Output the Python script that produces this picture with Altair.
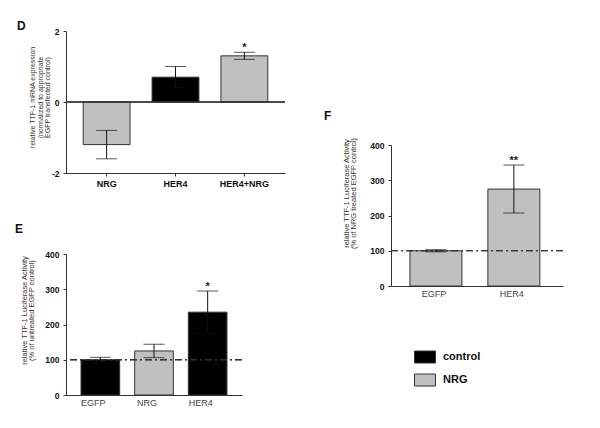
import altair as alt
import pandas as pd

FONT = "Liberation Sans"
GRAY = "#c0c0c0"

# Panel D
d_cats = ["NRG", "HER4", "HER4+NRG"]
d_vals = [-1.2, 0.7, 1.3]
d_err = [0.4, 0.3, 0.1]
d_treat = ["NRG", "control", "NRG"]
d_sig = ["", "", "*"]

# Panel E
e_cats = ["EGFP", "NRG", "HER4"]
e_vals = [100, 125, 235]
e_err = [7, 19, 60]
e_treat = ["control", "NRG", "control"]
e_sig = ["", "", "*"]

# Panel F
f_cats = ["EGFP", "HER4"]
f_vals = [100, 275]
f_err = [3, 68]
f_treat = ["NRG", "NRG"]
f_sig = ["", "**"]

legend_domain = ["control", "NRG"]
legend_range = ["#000000", GRAY]


def frame(cats, vals, errs, treat, sig):
    return pd.DataFrame({
        "cat": cats, "val": vals,
        "low": [v - e for v, e in zip(vals, errs)],
        "high": [v + e for v, e in zip(vals, errs)],
        "treat": treat, "sig": sig,
    })


def panel(df, letter, title_dx, title_offset, ytitle, ytitle_size, ytitle_pad,
          ytitle_y, ydomain, yvalues, xscale, xlabel_bold, xlabel_offset, width,
          height, ref, show_legend=False):
    base = alt.Chart(df)
    x = alt.X("cat:N", sort=list(df["cat"]), title=None, scale=xscale,
              axis=alt.Axis(labelAngle=0, labelFontSize=9,
                            labelFontWeight="bold" if xlabel_bold else "normal",
                            labelColor="#111" if xlabel_bold else "#444",
                            labelOffset=xlabel_offset, labelPadding=3,
                            ticks=xlabel_bold, tickSize=3))
    yax = alt.Axis(values=yvalues, labelExpr="'' + datum.value", labelFontSize=8.5,
                   labelFontWeight="bold", labelPadding=4, tickSize=3,
                   labelOverlap=False, labelFlush=False,
                   title=ytitle, titleFontSize=ytitle_size, titleFontWeight="normal",
                   titleLineHeight=ytitle_size + 0.3, titlePadding=ytitle_pad,
                   titleY=ytitle_y)
    ysc = alt.Scale(domain=ydomain, nice=False, zero=False)
    y = alt.Y("val:Q", scale=ysc, axis=yax)
    if show_legend:
        leg = alt.Legend(title=None, orient="none", legendX=23, legendY=201,
                         symbolType="M-1,-0.5714L1,-0.5714L1,0.5714L-1,0.5714Z",
                         symbolSize=441, symbolStrokeColor="#333", symbolStrokeWidth=1,
                         labelFont=FONT, labelFontSize=11, labelFontWeight="bold",
                         labelColor="#111", labelOffset=7, rowPadding=4, padding=0)
    else:
        leg = None
    color = alt.Color("treat:N", scale=alt.Scale(domain=legend_domain, range=legend_range),
                      legend=leg)
    bars = base.mark_bar(stroke="#333", strokeWidth=1).encode(x=x, y=y, color=color)
    ylow = alt.Y("low:Q", scale=ysc, axis=yax)
    yhigh = alt.Y("high:Q", scale=ysc, axis=yax)
    rule = base.mark_rule(color="#111", strokeWidth=1).encode(x=x, y=ylow, y2="high:Q")
    cap_hi = base.mark_tick(color="#111", thickness=1, size=21).encode(x=x, y=yhigh)
    cap_lo = base.mark_tick(color="#111", thickness=1, size=21).encode(x=x, y=ylow)
    sig = base.mark_text(font=FONT, fontSize=11, fontWeight="bold", color="#222",
                         baseline="alphabetic", dy=-1).encode(x=x, y=yhigh, text="sig:N")
    if ref == 0:
        refl = alt.Chart(df).mark_rule(color="#333", strokeWidth=1).encode(
            y=alt.Y(datum=0, scale=ysc, axis=yax))
    else:
        refl = alt.Chart(df).mark_rule(color="#333", strokeWidth=1,
                                       strokeDash=[7, 3, 2, 3]).encode(
            y=alt.Y(datum=ref, scale=ysc, axis=yax))
    layers = [bars, refl, rule, cap_lo, cap_hi, sig]
    return alt.layer(*layers).properties(
        width=width, height=height,
        title=alt.TitleParams(letter, anchor="start", frame="group", dx=title_dx,
                              offset=title_offset, font=FONT, fontSize=12,
                              fontWeight="bold", color="#111"))


dfD = frame(d_cats, d_vals, d_err, d_treat, d_sig)
dfE = frame(e_cats, e_vals, e_err, e_treat, e_sig)
dfF = frame(f_cats, f_vals, f_err, f_treat, f_sig)

D = panel(dfD, "D", -49, -6,
          ["relative TTF-1 mRNA expression", "(normalized to appropriate",
           "EGFP transfected control)"], 7, 1, 66, [-2, 2], [-2, 0, 2],
          alt.Scale(paddingInner=0.32, paddingOuter=0.25), True, 0, 219, 142, 0)
E = panel(dfE, "E", -51, 14,
          ["relative TTF-1 Luciferase Activity", "(% of untreated EGFP control)"],
          7.5, 9, 56, [0, 400], [0, 100, 200, 300, 400],
          alt.Scale(paddingInner=0.28, paddingOuter=0.28), False, -7, 176, 141, 100)
F = panel(dfF, "F", -67, 14,
          ["relative TTF-1 Luciferase Activity", "(% of NRG treated EGFP control)"],
          7.5, 12, 48, [0, 400], [0, 100, 200, 300, 400],
          alt.Scale(paddingInner=0.333, paddingOuter=0.27, align=0.45), False, -2,
          172, 141, 100, show_legend=True)

spacer = alt.Chart(pd.DataFrame({"v": [0]})).mark_point(opacity=0).encode(
    x=alt.X("v:Q", axis=None), y=alt.Y("v:Q", axis=None)).properties(width=172, height=104)

left = alt.vconcat(D, E, spacing=81, bounds="flush").resolve_legend(color="independent")
right = alt.vconcat(spacer, F, spacing=10, bounds="flush").resolve_legend(color="independent")

chart = alt.hconcat(left, right, spacing=325, bounds="flush").resolve_legend(
    color="independent").properties(
    padding={"left": 7, "top": 12, "right": 0, "bottom": 0}
).configure_axis(
    labelFont=FONT, titleFont=FONT, grid=False, domainColor="#333", tickColor="#333",
    labelColor="#111", titleColor="#333"
).configure_view(strokeWidth=0)

chart.save("out.html", embed_options={"renderer": "svg", "actions": False})
